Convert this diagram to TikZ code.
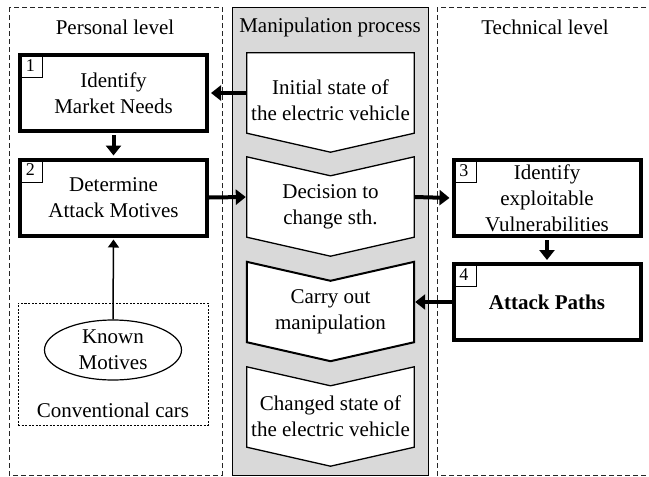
\documentclass[tikz,border=0pt]{standalone}
\usepackage{fontspec}
\setmainfont{Liberation Serif}
\usetikzlibrary{arrows.meta,calc,shapes.geometric}
\definecolor{procgray}{HTML}{D9D9D9}
\begin{document}
\begin{tikzpicture}[x=1pt,y=-1pt,
  every node/.style={font=\fontsize{21}{26}\selectfont, align=center, inner sep=0pt},
  frame/.style={draw=black!85, line width=0.8pt, dash pattern=on 5pt off 3pt},
  stepbox/.style={draw, line width=4pt, minimum width=187pt, minimum height=76pt},
  numbox/.style={draw, line width=0.6pt, anchor=north west, minimum size=24pt, font=\fontsize{18}{20}\selectfont},
  chevbody/.style={minimum width=167pt, minimum height=80pt},
  chev/.style={draw, fill=white, line width=1.3pt, line join=miter},
  bigarrow/.style={line width=4pt, -{Triangle[length=10pt,width=15pt]}},
  thinarrow/.style={line width=1.5pt, -{Triangle[length=8pt,width=11pt]}},
  dotbox/.style={draw, line width=0.8pt, dash pattern=on 2pt off 1.5pt, minimum width=190pt, minimum height=122pt}
]
\useasboundingbox (0,0) rectangle (649,477);
% frames
\draw[frame] (9,7) rectangle (222,475);
\draw[fill=procgray, draw=black, line width=1pt] (232,7) rectangle (428,475);
\draw[frame] (437,7) rectangle (649.5,475);
\node (tp) at (115,27) {Personal level};
\node (tm) at (330,27) {Manipulation process};
\node (tt) at (545,27) {Technical level};
% step boxes
\node[stepbox] (b1) at (113.5,93) {Identify\\Market Needs};
\node[stepbox] (b2) at (113.5,197.5) {Determine\\Attack Motives};
\node[stepbox] (b3) at (547,198) {Identify\\exploitable\\Vulnerabilities};
\node[stepbox] (b4) at (547,302) {\bfseries Attack Paths};
\node[numbox] (n1) at (b1.north west) {1};
\node[numbox] (n2) at (b2.north west) {2};
\node[numbox] (n3) at (b3.north west) {3};
\node[numbox] (n4) at (b4.north west) {4};
% chevrons
\node[chevbody] (c1) at (330.5,93) {};
\node[chevbody] (c2) at (330.5,197) {};
\node[chevbody] (c3) at (330.5,302) {};
\node[chevbody] (c4) at (330.5,407) {};
\draw[chev] (c1.north west) -- (c1.north east) -- (c1.south east) -- ($(c1.south)+(0,19)$) -- (c1.south west) -- cycle;
\foreach \c in {c2,c4}{
  \draw[chev] (\c.north west) -- ($(\c.north)+(0,19)$) -- (\c.north east) -- (\c.south east) -- ($(\c.south)+(0,19)$) -- (\c.south west) -- cycle;
}
\draw[chev, line width=2pt] (c3.north west) -- ($(c3.north)+(0,19)$) -- (c3.north east) -- (c3.south east) -- ($(c3.south)+(0,19)$) -- (c3.south west) -- cycle;
\node (c1t) at (330.5,100) {Initial state of\\the electric vehicle};
\node (c2t) at (330.5,207) {Decision to\\change sth.};
\node (c3t) at (330.5,312) {Carry out\\manipulation};
\node (c4t) at (330.5,416) {Changed state of\\the electric vehicle};
% conventional cars
\node[dotbox] (cc) at (113,364) {};
\node[ellipse, draw, line width=1.2pt, minimum width=137pt, minimum height=60pt] (km) at (113,350) {Known\\Motives};
\node (cct) at (113,410) {Conventional cars};
% connectors
\draw[bigarrow, shorten >=2pt] (c1.west) -- (b1.east);
\draw[bigarrow, shorten >=1pt] (b2.east) -- (c2.west);
\draw[bigarrow, shorten >=2pt] (c2.east) -- (b3.west);
\draw[bigarrow, shorten >=1pt] (b4.west) -- (c3.east);
\draw[bigarrow, shorten >=2pt, shorten <=2pt] (b1.south) -- (b2.north);
\draw[bigarrow, shorten >=2pt, shorten <=2pt] (b3.south) -- (b4.north);
\draw[thinarrow, shorten >=2pt] (km.north) -- (b2.south);
\end{tikzpicture}
\end{document}
